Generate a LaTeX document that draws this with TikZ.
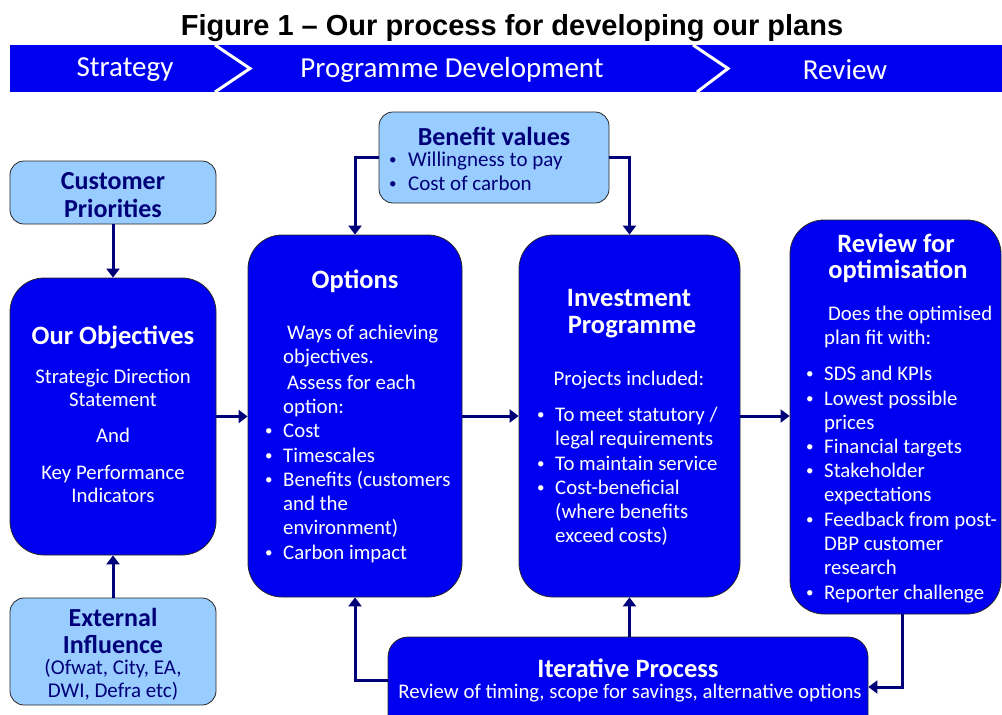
\documentclass[tikz,border=0pt]{standalone}
\usepackage{fontspec}
\setmainfont{Carlito}
\newfontfamily\figfont{Liberation Sans}
\usetikzlibrary{arrows.meta, positioning, calc}

\definecolor{boxblue}{RGB}{0,0,240}
\definecolor{paleblue}{RGB}{153,204,255}
\definecolor{linknavy}{RGB}{0,0,120}

\tikzset{
  bigbox/.style={draw=black!85, fill=boxblue, rounded corners=34pt, line width=0.8pt, inner sep=0pt},
  palebox/.style={draw=black!85, fill=paleblue, rounded corners=14pt, line width=0.8pt, inner sep=0pt},
  link/.style={draw=linknavy, line width=3pt, -{Triangle[length=9pt,width=13pt]}},
  figtitle/.style={font=\figfont\bfseries\fontsize{29}{33}\selectfont, inner sep=0pt},
  phase/.style={text=white, font=\fontsize{29}{33}\selectfont, inner sep=0pt},
  head/.style={text=white, font=\bfseries\fontsize{26.5}{30}\selectfont, inner sep=0pt},
  body/.style={text=white, font=\fontsize{20.8}{24}\selectfont, inner sep=0pt, text height=14pt, text depth=4pt},
  bodyL/.style={body, anchor=west},
  dot/.style={text=white, font=\fontsize{15}{18}\selectfont, inner sep=0pt, anchor=west},
  palehead/.style={text=linknavy, font=\bfseries\fontsize{26}{30}\selectfont, inner sep=0pt},
  paletxt/.style={text=linknavy, font=\fontsize{21}{24}\selectfont, inner sep=0pt, text height=14pt, text depth=4pt},
}

\begin{document}
\begin{tikzpicture}[x=1pt,y=-1pt]
\useasboundingbox (0,0) rectangle (1002,715);
\clip (0,0) rectangle (1002,715);

% heading and phase band
\node[figtitle] (title) at (512,28) {Figure 1 – Our process for developing our plans};
\fill[boxblue] (10,45) rectangle (1002,92);
\draw[white, line width=3pt] (215,45) -- (250,68.5) -- (215,92);
\draw[white, line width=3pt] (693,45) -- (728,68.5) -- (697,92);
\node[phase] (strategy) at (125,70) {Strategy};
\node[phase] (progdev) at (452,70) {Programme Development};
\node[phase] (review) at (845,70) {Review};

% boxes
\node[palebox, minimum width=206pt, minimum height=63pt] (cust) at (113,192.5) {};
\node[bigbox, minimum width=206pt, minimum height=277pt] (obj) at (113,416.5) {};
\node[palebox, minimum width=206pt, minimum height=107pt] (ext) at (113,651.5) {};
\node[palebox, minimum width=230pt, minimum height=91pt] (ben) at (494,157.5) {};
\node[bigbox, minimum width=214pt, minimum height=362pt] (opt) at (355,416) {};
\node[bigbox, minimum width=221pt, minimum height=362pt] (inv) at (629.5,416) {};
\node[bigbox, minimum width=211pt, minimum height=394pt] (rev) at (895.5,417) {};
\node[bigbox, rounded corners=20pt, minimum width=480pt, minimum height=104pt] (iter) at (628,689) {};

% connectors
\draw[link] (cust) -- (obj);
\draw[link] (ext) -- (obj);
\draw[link] (obj.east) -- (obj.east -| opt.west);
\draw[link] (opt.east) -- (inv.west);
\draw[link] (inv.east) -- (inv.east -| rev.west);
\draw[link] (ben.west) -| (opt.north);
\draw[link] (ben.east) -| (inv.north);
\draw[link] ([xshift=7pt]rev.south) |- ([yshift=2pt]iter.east);
\draw[link] ([yshift=9pt]iter.west) -| (opt.south);
\draw[link] (iter.north -| inv.south) -- (inv.south);

% customer priorities / external influence
\node[palehead] (custa) at (113,181) {Customer};
\node[palehead] (custb) at (113,208) {Priorities};
\node[palehead] (exta) at (113,617) {External};
\node[palehead] (extb) at (113,645) {Influence};
\node[paletxt] (extc) at (113,669) {(Ofwat, City, EA,};
\node[paletxt] (extd) at (113,692) {DWI, Defra etc)};

% objectives
\node[head] (objhead) at (113,337) {Our Objectives};
\foreach \y / \lbl in {378/{Strategic Direction}, 401/{Statement}, 437/{And},
  474/{Key Performance}, 497/{Indicators}} {
\node[body] at (113,\y) {\lbl};
}

% benefit values
\node[palehead] (benhead) at (494,136) {Benefit values};
\foreach \y / \lbl in {161/{Willingness to pay}, 185/{Cost of carbon}} {
\node[dot, text=linknavy] at (389,\y) {•};
\node[paletxt, anchor=west] at (408,\y) {\lbl};
}

% options
\node[head] (opthead) at (355,281) {Options};
\node[bodyL] at (287,334) {Ways of achieving};
\node[bodyL] at (283,358) {objectives.};
\node[bodyL] at (287,384) {Assess for each};
\node[bodyL] at (283,408) {option:};
\foreach \y / \lbl in {432/{Cost}, 457/{Timescales}, 481/{Benefits (customers},
  505/{and the}, 529/{environment)}, 554/{Carbon impact}} {
\node[bodyL] at (283,\y) {\lbl};
}
\foreach \y in {432,457,481,554} {
\node[dot] at (265,\y) {•};
}

% investment programme
\node[head] (invheada) at (629,298) {Investment};
\node[head] (invheadb) at (632,327) {Programme};
\node[body] at (629,380) {Projects included:};
\foreach \y / \lbl in {416/{To meet statutory /}, 440/{legal requirements},
  465/{To maintain service}, 489/{Cost-beneficial}, 513/{(where benefits},
  537/{exceed costs)}} {
\node[bodyL] at (555,\y) {\lbl};
}
\foreach \y in {416,465,489} {
\node[dot] at (537,\y) {•};
}

% review for optimisation
\node[head] (revheada) at (896,243) {Review for};
\node[head] (revheadb) at (898,271) {optimisation};
\node[bodyL] at (828,315) {Does the optimised};
\node[bodyL] at (824,339) {plan fit with:};
\foreach \y / \lbl in {375/{SDS and KPIs}, 400/{Lowest possible}, 424/{prices},
  448/{Financial targets}, 472/{Stakeholder}, 496/{expectations},
  521/{Feedback from post-}, 545/{DBP customer}, 569/{research},
  594/{Reporter challenge}} {
\node[bodyL] at (824,\y) {\lbl};
}
\foreach \y in {375,400,448,472,521,594} {
\node[dot] at (806,\y) {•};
}

% iterative process
\node[head] (iterhead) at (628,668) {Iterative Process};
\node[body] (itertxt) at (630,693) {Review of timing, scope for savings, alternative options};
\end{tikzpicture}
\end{document}
